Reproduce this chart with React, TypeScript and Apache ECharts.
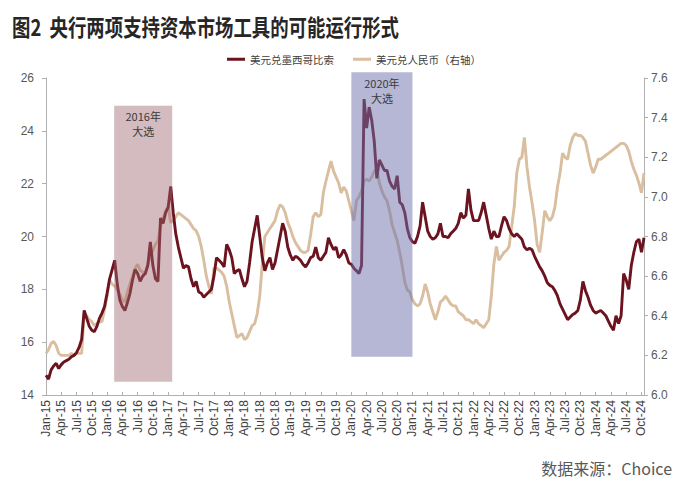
import React, { useEffect, useRef } from "react";
import * as echarts from "echarts";

// USD/MXN, two readings per month (1st and 16th), Jan-2015 .. Oct-2024
const mxn2015 = [14.75,14.6,14.95,15.1,15.2,15.0,15.15,15.25,15.3,15.35,15.45,15.5,15.6,15.8,16.1,17.2,16.9,16.6,16.45,16.4,16.6,16.9,17.1,17.35];
const mxn2016 = [17.85,18.4,18.75,19.1,18.2,17.6,17.35,17.2,17.5,17.85,18.35,18.75,18.6,18.3,18.5,18.6,18.9,19.8,18.9,18.4,18.3,20.7,20.5,20.9];
const mxn2017 = [21.1,21.9,20.9,20.1,19.6,19.2,18.8,18.9,18.85,18.4,18.1,18.3,17.9,17.85,17.7,17.8,17.9,18.0,18.5,19.2,19.1,19.0,18.85,19.7];
const mxn2018 = [19.5,19.2,18.6,18.7,18.75,18.4,18.1,18.3,19.0,19.8,20.3,20.8,20.0,19.2,18.7,19.0,19.2,18.75,19.0,19.5,20.0,20.5,20.2,19.6];
const mxn2019 = [19.3,19.1,19.25,19.2,19.1,18.95,18.85,19.0,19.2,19.25,19.6,19.2,19.1,19.25,19.4,19.95,19.7,19.5,19.6,19.2,19.3,19.5,19.3,19.0];
const mxn2020 = [18.95,18.8,18.7,18.6,18.9,25.2,24.1,24.9,24.4,23.6,22.2,22.9,22.7,22.5,22.5,22.1,21.9,21.8,22.3,21.3,21.2,20.9,20.3,19.95];
const mxn2021 = [19.8,19.75,20.0,20.4,21.3,20.75,20.2,20.0,19.9,19.95,20.1,20.5,20.0,20.0,19.95,20.1,20.2,20.3,20.5,20.9,20.7,20.8,21.8,21.0];
const mxn2022 = [20.6,20.6,20.6,20.9,21.3,20.8,20.3,19.9,20.2,20.0,20.0,20.4,20.75,20.6,20.3,20.1,20.0,20.1,20.0,19.9,19.6,19.5,19.55,19.5];
const mxn2023 = [19.25,19.05,18.85,18.7,18.5,18.25,18.15,18.1,17.95,17.75,17.45,17.25,17.05,16.85,16.95,17.05,17.1,17.2,17.6,18.3,17.95,17.7,17.4,17.2];
const mxn2024 = [17.1,17.15,17.2,17.1,17.0,16.8,16.6,16.45,17.0,16.7,17.0,18.6,18.35,18.0,18.9,19.4,19.8,19.9,19.4,19.95];

// USD/CNY (right axis), same dates
const rmb2015 = [6.21,6.23,6.26,6.27,6.25,6.21,6.2,6.2,6.2,6.2,6.21,6.2,6.21,6.21,6.21,6.41,6.40,6.38,6.37,6.35,6.36,6.37,6.37,6.43];
const rmb2016 = [6.5,6.58,6.56,6.55,6.53,6.51,6.48,6.47,6.52,6.56,6.6,6.64,6.66,6.63,6.62,6.61,6.66,6.7,6.73,6.76,6.78,6.85,6.89,6.93];
const rmb2017 = [6.95,6.87,6.88,6.9,6.92,6.91,6.9,6.89,6.88,6.86,6.84,6.83,6.8,6.75,6.68,6.6,6.55,6.51,6.64,6.64,6.63,6.62,6.6,6.55];
const rmb2018 = [6.47,6.41,6.35,6.29,6.30,6.31,6.28,6.29,6.32,6.35,6.36,6.41,6.5,6.66,6.8,6.82,6.84,6.86,6.88,6.93,6.96,6.95,6.92,6.87];
const rmb2019 = [6.84,6.8,6.77,6.75,6.73,6.72,6.72,6.73,6.81,6.9,6.92,6.9,6.91,7.02,7.08,7.13,7.18,7.13,7.1,7.07,7.02,7.05,7.03,6.98];
const rmb2020 = [6.93,6.88,6.98,7.0,7.03,7.08,7.09,7.08,7.1,7.13,7.14,7.07,7.03,7.0,6.98,6.93,6.86,6.82,6.78,6.72,6.65,6.57,6.53,6.52];
const rmb2021 = [6.48,6.46,6.45,6.46,6.5,6.56,6.52,6.46,6.42,6.38,6.42,6.47,6.48,6.5,6.48,6.46,6.45,6.45,6.42,6.41,6.4,6.38,6.38,6.37];
const rmb2022 = [6.36,6.38,6.36,6.35,6.34,6.36,6.38,6.5,6.66,6.75,6.68,6.7,6.72,6.73,6.75,6.85,6.95,7.12,7.19,7.2,7.3,7.15,7.05,6.97];
const rmb2023 = [6.88,6.76,6.72,6.82,6.93,6.9,6.88,6.9,6.95,7.05,7.12,7.22,7.2,7.19,7.26,7.3,7.32,7.31,7.31,7.3,7.28,7.22,7.16,7.12];
const rmb2024 = [7.15,7.19,7.19,7.2,7.21,7.22,7.23,7.24,7.25,7.26,7.27,7.27,7.26,7.23,7.18,7.14,7.11,7.07,7.02,7.12];

const years = [2015, 2016, 2017, 2018, 2019, 2020, 2021, 2022, 2023, 2024];
const monthNames = ["Jan","Feb","Mar","Apr","May","Jun","Jul","Aug","Sep","Oct","Nov","Dec"];
const leftTicks = { min: 14, max: 26, interval: 2 };
const rightTicks = { min: 6.0, max: 7.6, interval: 0.2 };

// Election shading (months since Jan-2015, left-axis values)
const boxStartMonth = [13.4, 60.0];
const boxEndMonth = [24.8, 72.0];
const boxTop = [24.95, 26.22];
const boxBottom = [14.5, 15.45];
const boxLabels = ["2016年\n大选", "2020年\n大选"];
const boxColors = ["rgba(160,105,112,0.45)", "rgba(108,112,172,0.5)"];

const seriesNames = ["美元兑墨西哥比索", "美元兑人民币（右轴）"];
const titleText = "图2  央行两项支持资本市场工具的可能运行形式";
const sourceText = "数据来源：Choice";

const mxn = [...mxn2015, ...mxn2016, ...mxn2017, ...mxn2018, ...mxn2019, ...mxn2020, ...mxn2021, ...mxn2022, ...mxn2023, ...mxn2024];
const rmb = [...rmb2015, ...rmb2016, ...rmb2017, ...rmb2018, ...rmb2019, ...rmb2020, ...rmb2021, ...rmb2022, ...rmb2023, ...rmb2024];

const categories: string[] = [];
years.forEach((y) => {
  monthNames.forEach((_, mi) => {
    const mm = String(mi + 1).padStart(2, "0");
    categories.push(`${y}-${mm}-01`, `${y}-${mm}-16`);
  });
});
categories.length = mxn.length;

const isQuarterStart = (idx: number) => idx % 2 === 0 && (idx / 2) % 3 === 0;
const fmtCat = (v: string) => {
  const [y, m] = v.split("-");
  return `${monthNames[Number(m) - 1]}-${y.slice(2)}`;
};

export default function App() {
  const ref = useRef<HTMLDivElement>(null);
  useEffect(() => {
    if (!ref.current) return;
    const chart = echarts.init(ref.current, null, { renderer: "svg" });
    const axisGray = "#b0b0b0";
    const labelColor = "#595959";
    chart.setOption({
      animation: false,
      backgroundColor: "#ffffff",
      grid: { left: 46, right: 56, top: 78, bottom: 89, containLabel: false },
      legend: {
        data: seriesNames,
        top: 49,
        left: 222,
        icon: "rect",
        itemWidth: 18,
        itemHeight: 3,
        itemGap: 19,
        textStyle: { fontSize: 10.5, color: "#404040", fontFamily: "Noto Sans CJK SC" },
      },
      xAxis: [
        {
          type: "category",
          data: categories,
          boundaryGap: false,
          axisLine: { lineStyle: { color: axisGray } },
          axisTick: { inside: true, length: 3, interval: (i: number) => isQuarterStart(i), lineStyle: { color: axisGray } },
          axisLabel: {
            interval: (i: number) => isQuarterStart(i),
            rotate: 90,
            formatter: fmtCat,
            fontSize: 12,
            margin: 5,
            color: "#404040",
            fontFamily: "Liberation Sans",
          },
          splitLine: { show: false },
        },
        { type: "value", min: 0, max: (mxn.length - 1) / 2, show: false },
      ],
      yAxis: [
        {
          type: "value",
          ...leftTicks,
          axisLine: { show: true, lineStyle: { color: axisGray } },
          axisTick: { show: true, length: 4, lineStyle: { color: axisGray } },
          axisLabel: { fontSize: 12, color: labelColor, margin: 12, fontFamily: "Liberation Sans" },
          splitLine: { show: false },
        },
        {
          type: "value",
          ...rightTicks,
          axisLine: { show: true, lineStyle: { color: axisGray } },
          axisTick: { show: true, length: 4, lineStyle: { color: axisGray } },
          axisLabel: {
            fontSize: 12,
            color: labelColor,
            margin: 7,
            fontFamily: "Liberation Sans",
            formatter: (v: number) => v.toFixed(1),
          },
          splitLine: { show: false },
        },
      ],
      series: [
        {
          name: seriesNames[1],
          type: "line",
          yAxisIndex: 1,
          data: rmb,
          showSymbol: false,
          lineStyle: { color: "#d9bea0", width: 2.9 },
          itemStyle: { color: "#d9bea0" },
          z: 2,
        },
        {
          name: seriesNames[0],
          type: "line",
          yAxisIndex: 0,
          data: mxn,
          showSymbol: false,
          lineStyle: { color: "#6c1320", width: 2.9 },
          itemStyle: { color: "#6c1320" },
          z: 3,
        },
        {
          name: "boxes",
          type: "custom",
          xAxisIndex: 1,
          yAxisIndex: 0,
          z: 5,
          clip: false,
          encode: { x: [0, 1], y: [2, 3] },
          data: boxStartMonth.map((s, i) => [s, boxEndMonth[i], boxTop[i], boxBottom[i]]),
          renderItem: (params: any, api: any) => {
            const i = params.dataIndex;
            const p0 = api.coord([api.value(0), api.value(2)]);
            const p1 = api.coord([api.value(1), api.value(3)]);
            return {
              type: "group",
              children: [
                {
                  type: "rect",
                  shape: { x: p0[0], y: p0[1], width: p1[0] - p0[0], height: p1[1] - p0[1] },
                  style: { fill: boxColors[i] },
                },
                {
                  type: "text",
                  style: {
                    text: boxLabels[i],
                    x: (p0[0] + p1[0]) / 2,
                    y: p0[1] + 3,
                    align: "center",
                    verticalAlign: "top",
                    fontSize: 11,
                    lineHeight: 15,
                    fill: "#3a3a3a",
                    fontFamily: "Noto Sans CJK SC",
                  },
                },
              ],
            };
          },
        },
      ],
      graphic: [
        {
          type: "text",
          x: 12,
          y: 26,
          scaleX: 0.8,
          style: {
            text: titleText,
            fontSize: 23,
            fontWeight: "bold",
            fill: "#262626",
            fontFamily: "Noto Sans CJK SC",
            verticalAlign: "middle",
          },
        },
        {
          type: "text",
          x: 672,
          y: 468,
          style: {
            text: sourceText,
            fontSize: 16,
            fill: "#595959",
            fontFamily: "Noto Sans CJK SC",
            align: "right",
            verticalAlign: "middle",
          },
        },
      ],
    });
    return () => chart.dispose();
  }, []);
  return (
    <div
      ref={ref}
      style={{ position: "absolute", left: 0, top: 0, width: 700, height: 484, background: "#fff" }}
    />
  );
}
